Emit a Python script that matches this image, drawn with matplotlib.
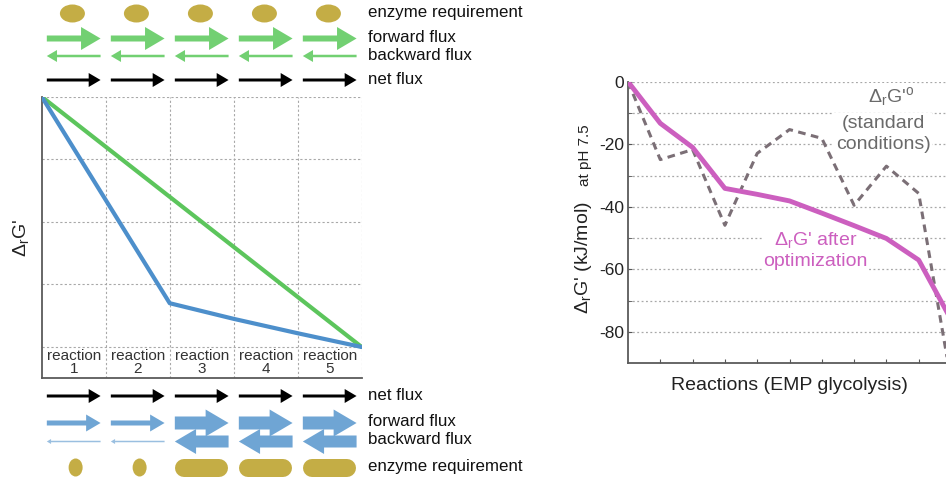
import matplotlib
matplotlib.use('Agg')
import matplotlib.pyplot as plt
from matplotlib.patches import Ellipse, FancyArrow

plt.rcParams['font.family'] = ['Liberation Sans', 'DejaVu Sans']
plt.rcParams['mathtext.fontset'] = 'custom'
plt.rcParams['mathtext.rm'] = 'Liberation Sans'
plt.rcParams['mathtext.it'] = 'Liberation Sans:italic'

# ---- left: schematic of two reaction pathways ----
steps = [0, 1, 2, 3, 4, 5]
green_dG = [0, -0.8, -1.6, -2.4, -3.2, -4.0]      # evenly spread driving force
blue_dG = [0, -1.65, -3.3, -3.55, -3.78, -4.0]    # uneven driving force
reaction_labels = ['reaction\n1', 'reaction\n2', 'reaction\n3', 'reaction\n4', 'reaction\n5']

# arrow thickness (px): shaft, head height
green_fwd = [(6, 23)] * 5
green_bwd = [(2.5, 12)] * 5
blue_fwd = [(5, 17), (5, 17), (13, 27), (13, 27), (13, 27)]
blue_bwd = [(1.5, 5), (1.5, 5), (12, 25), (12, 25), (12, 25)]
net_flux = [(3, 14)] * 5
# enzyme blob widths (px)
green_enzyme = [25] * 5
blue_enzyme = [14, 14, 53, 53, 53]

# ---- right: EMP glycolysis ----
emp_steps = list(range(11))
dG_standard = [0, -24.9, -21.7, -45.9, -22.9, -15.3, -18.1, -39.5, -27.0, -35.7, -95.4]
dG_optimized = [0, -13.3, -21.0, -34.1, -36.0, -38.1, -42.0, -46.0, -50.1, -57.0, -76.0]

GOLD = '#c4ad45'
GREEN_A = '#72d072'
GREEN_L = '#5cc55c'
BLUE_A = '#6fa5d4'
BLUE_L = '#4d8fcb'
MAGENTA = '#cc5fbf'
GRAY_D = '#7b6f76'

W, H = 946, 483
fig = plt.figure(figsize=(W / 100, H / 100), dpi=100)

# left axes
L, R, T, B = 41.7, 361.7, 96.7, 378.3
axl = fig.add_axes([L / W, 1 - B / H, (R - L) / W, (B - T) / H])
axl.plot(steps, green_dG, color=GREEN_L, lw=3, solid_capstyle='round', zorder=3)
axl.plot(steps, blue_dG, color=BLUE_L, lw=3, solid_capstyle='round', zorder=3)
axl.set_xlim(0, 5)
axl.set_ylim(-4.5, 0)
axl.set_xticks(steps[1:])
axl.set_yticks([0, -1, -2, -3, -4])
axl.tick_params(length=0, labelbottom=False, labelleft=False)
axl.grid(True, color='#a8a8a8', ls=(0, (2, 2)), lw=0.8)
for s in ['top', 'right']:
    axl.spines[s].set_visible(False)
for s in ['left', 'bottom']:
    axl.spines[s].set_color('#5a5a5a')
    axl.spines[s].set_linewidth(1.3)
for i, lab in enumerate(reaction_labels):
    axl.text(i + 0.5, -4.25, lab, ha='center', va='center', fontsize=11,
             color='#333333', linespacing=0.9)
axl.set_ylabel("Δ$_\\mathrm{r}$G'", fontsize=14, labelpad=8, color='#222222')

# overlay axes: rows in pixels, x in reaction units of the left axes
ov = fig.add_axes([0, 0, 1, 1], zorder=-1)
ov.set_xlim(-L / 64, (W - L) / 64)
ov.set_ylim(H, 0)
ov.axis('off')
unit = 64.0  # px per reaction column


def arrow(i, y, shaft, head, color, forward=True, alpha=1.0):
    x0, x1 = i + 0.08, i + 0.92
    hl = head * 0.85 / unit
    start, dx = (x0, x1 - x0) if forward else (x1, x0 - x1)
    ov.add_patch(FancyArrow(start, y, dx, 0, width=shaft, head_width=head,
                            head_length=hl, length_includes_head=True,
                            color=color, lw=0, alpha=alpha))


for i in range(5):
    ov.add_patch(Ellipse((i + 0.48, 13.5), green_enzyme[i] / unit, 18, color=GOLD, lw=0))
    arrow(i, 38.5, *green_fwd[i], GREEN_A)
    arrow(i, 56, *green_bwd[i], GREEN_A, forward=False)
    arrow(i, 80, *net_flux[i], 'black')

    arrow(i, 396, *net_flux[i], 'black')
    arrow(i, 423, *blue_fwd[i], BLUE_A)
    arrow(i, 441.5, *blue_bwd[i], BLUE_A, forward=False,
          alpha=1.0 if blue_bwd[i][0] > 3 else 0.7)
    w = blue_enzyme[i]
    if w > 20:
        half = (w - 18) / 2 / unit
        ov.plot([i + 0.5 - half, i + 0.5 + half], [467.5, 467.5], color=GOLD,
                lw=18 * 0.72, solid_capstyle='round')
    else:
        ov.add_patch(Ellipse((i + 0.53, 467.5), w / unit, 18, color=GOLD, lw=0))

tx = (368 - L) / unit
for y, lab in [(13, 'enzyme requirement'), (38, 'forward flux'), (56, 'backward flux'),
               (80, 'net flux'), (396, 'net flux'), (421, 'forward flux'),
               (440, 'backward flux'), (466, 'enzyme requirement')]:
    ov.text(tx, y, lab, ha='left', va='center', fontsize=12.2, color='#111111')

# right axes
RL, RT, RB = 628.0, 81.7, 363.3
RR = RL + 32.3 * 10
axr = fig.add_axes([RL / W, 1 - RB / H, (RR - RL) / W, (RB - RT) / H])
axr.plot(emp_steps, dG_standard, color=GRAY_D, lw=2.2, ls=(0, (2.5, 1.8)), zorder=3)
axr.plot(emp_steps, dG_optimized, color=MAGENTA, lw=3.5, zorder=4)
axr.set_xlim(0, 10)
axr.set_ylim(-90, 0)
axr.set_xticks(range(1, 10))
axr.set_yticks([0, -20, -40, -60, -80])
axr.set_yticks([-10, -30, -50, -70], minor=True)
axr.set_yticklabels(['0', '-20', '-40', '-60', '-80'], fontsize=12.5, color='#222222')
axr.tick_params(axis='x', direction='in', length=3, labelbottom=False, color='#555555')
axr.tick_params(axis='y', which='both', direction='in', length=3, color='#555555', pad=3)
axr.grid(True, which='both', axis='y', color='#a8a8a8', ls=(0, (1.5, 2)), lw=0.9)
for s in ['top', 'right']:
    axr.spines[s].set_visible(False)
for s in ['left', 'bottom']:
    axr.spines[s].set_color('#5a5a5a')
    axr.spines[s].set_linewidth(1.3)
axr.set_xlabel('Reactions (EMP glycolysis)', fontsize=14, labelpad=10, color='#222222')
axr.set_ylabel("Δ$_\\mathrm{r}$G' (kJ/mol)", fontsize=14, color='#222222')
axr.yaxis.set_label_coords(-0.105, 0.374)
axr.text(-0.133, 0.74, 'at pH 7.5', transform=axr.transAxes, rotation=90,
         ha='center', va='center', fontsize=11, color='#222222')

box = dict(facecolor='white', edgecolor='none', pad=1)
axr.text(8.16, -4.6, "Δ$_\\mathrm{r}$G'$^\\mathrm{o}$", ha='center', va='center',
         fontsize=14, color='#6a6a6a', bbox=box, zorder=3.5)
axr.text(7.9, -16.6, '(standard\nconditions)', ha='center', va='center',
         fontsize=14, color='#6a6a6a', linespacing=1.3, bbox=box, zorder=3.5)
axr.text(5.8, -53.8, "Δ$_\\mathrm{r}$G' after\noptimization", ha='center', va='center',
         fontsize=14, color=MAGENTA, linespacing=1.2, bbox=box, zorder=3.5)

fig.savefig('out.png', dpi=100)
